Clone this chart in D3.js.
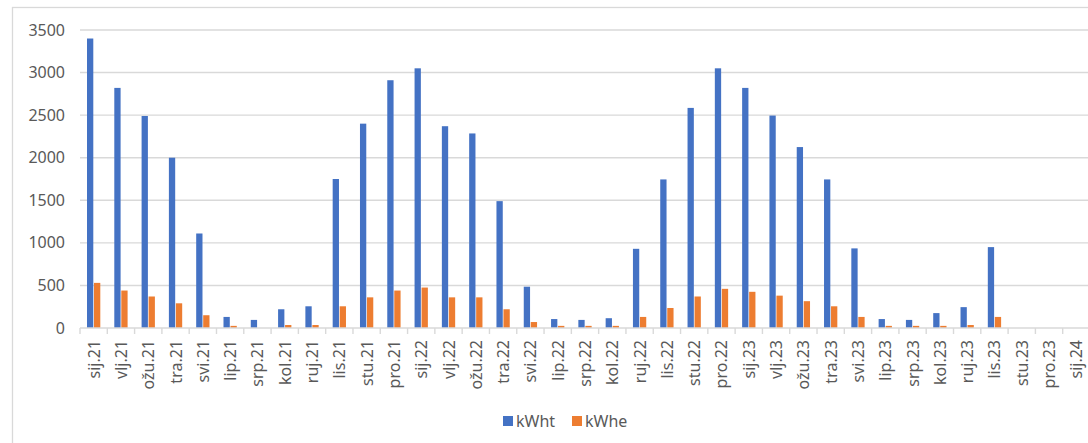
<!DOCTYPE html>
<html>
<head>
<meta charset="utf-8">
<script src="https://cdn.jsdelivr.net/npm/d3@7"></script>
<style>
  html, body { margin: 0; padding: 0; background: #fff; }
  svg { display: block; font-family: "Noto Sans", sans-serif; }
</style>
</head>
<body>
<svg id="chart" width="1088" height="443"></svg>
<script>
// Monthly consumption: thermal (kWht) and electrical (kWhe)
const months = [
  "sij.21","vlj.21","ožu.21","tra.21","svi.21","lip.21","srp.21","kol.21","ruj.21","lis.21","stu.21","pro.21",
  "sij.22","vlj.22","ožu.22","tra.22","svi.22","lip.22","srp.22","kol.22","ruj.22","lis.22","stu.22","pro.22",
  "sij.23","vlj.23","ožu.23","tra.23","svi.23","lip.23","srp.23","kol.23","ruj.23","lis.23","stu.23","pro.23",
  "sij.24"
];
const kWht = [
  3400, 2820, 2490, 2000, 1110, 130, 95, 220, 255, 1750, 2400, 2910,
  3050, 2370, 2285, 1490, 485, 105, 95, 115, 930, 1745, 2585, 3050,
  2820, 2495, 2125, 1745, 935, 105, 95, 175, 245, 950, 0, 0,
  0
];
const kWhe = [
  530, 440, 370, 290, 150, 25, 0, 35, 35, 255, 360, 440,
  475, 360, 360, 220, 70, 25, 25, 25, 130, 235, 370, 460,
  425, 380, 315, 255, 130, 25, 25, 25, 35, 130, 0, 0,
  0
];
const seriesNames = ["kWht", "kWhe"];
const seriesColors = ["#4472C4", "#ED7D31"];
const yTicks = [0, 500, 1000, 1500, 2000, 2500, 3000, 3500];

const svg = d3.select("#chart");
const W = 1088, H = 443;
const plot = { left: 80, right: 1090, top: 30, bottom: 328 };
const gray = "#595959", gridColor = "#d9d9d9";

// outer chart frame
svg.append("rect")
  .attr("x", 12.5).attr("y", 7.5)
  .attr("width", W + 20).attr("height", H + 20)
  .attr("fill", "#fff").attr("stroke", gridColor).attr("stroke-width", 1.3);

const x = d3.scaleBand().domain(months).range([plot.left, plot.right]).padding(0);
const xs = d3.scaleBand().domain(seriesNames)
  .range([7, x.bandwidth() - 7]).paddingInner(0.1);
const y = d3.scaleLinear().domain([0, 3500]).range([plot.bottom, plot.top]);

// horizontal gridlines
svg.append("g").selectAll("line").data(yTicks.slice(1)).join("line")
  .attr("x1", plot.left).attr("x2", W + 10)
  .attr("y1", d => y(d)).attr("y2", d => y(d))
  .attr("stroke", gridColor).attr("stroke-width", 1.4);

// y axis labels
const yAxis = d3.axisLeft(y).tickValues(yTicks).tickFormat(d3.format("d"))
  .tickSize(0).tickPadding(0);
const gy = svg.append("g").attr("transform", `translate(${plot.left - 15},0)`).call(yAxis);
gy.select(".domain").remove();
gy.selectAll("text").attr("fill", gray).style("font-size", "16px")
  .style("font-family", "'Noto Sans', sans-serif");

// bars
const rows = months.map((m, i) => ({ m, vals: [kWht[i], kWhe[i]] }));
const groups = svg.append("g").selectAll("g").data(rows).join("g")
  .attr("transform", d => `translate(${x(d.m)},0)`);
groups.selectAll("rect")
  .data(d => d.vals.map((v, k) => ({ k, v })))
  .join("rect")
  .attr("x", d => xs(seriesNames[d.k]))
  .attr("width", xs.bandwidth())
  .attr("y", d => y(d.v))
  .attr("height", d => y(0) - y(d.v))
  .attr("fill", d => seriesColors[d.k]);

// x axis line and tick marks at category boundaries
svg.append("line")
  .attr("x1", plot.left).attr("x2", W + 10)
  .attr("y1", plot.bottom).attr("y2", plot.bottom)
  .attr("stroke", gridColor).attr("stroke-width", 1.4);
const boundaries = months.map(m => x(m));
svg.append("g").selectAll("line").data(boundaries).join("line")
  .attr("x1", d => d).attr("x2", d => d)
  .attr("y1", plot.bottom).attr("y2", plot.bottom + 6)
  .attr("stroke", gridColor).attr("stroke-width", 1.4);

// rotated month labels
svg.append("g").selectAll("text").data(months).join("text")
  .attr("transform", d => `translate(${x(d) + x.bandwidth() / 2},340) rotate(-90)`)
  .attr("text-anchor", "end")
  .attr("dominant-baseline", "central")
  .attr("fill", gray)
  .style("font-size", "16px")
  .text(d => d);

// legend
const legend = svg.append("g").attr("transform", "translate(503,421)");
const legendX = [0, 69];
seriesNames.forEach((name, i) => {
  const g = legend.append("g").attr("transform", `translate(${legendX[i]},0)`);
  g.append("rect").attr("x", 0).attr("y", -5).attr("width", 10).attr("height", 10)
    .attr("fill", seriesColors[i]);
  g.append("text").attr("x", 13).attr("y", 0)
    .attr("dominant-baseline", "central")
    .attr("fill", gray).style("font-size", "16px").text(name);
});
</script>
</body>
</html>
